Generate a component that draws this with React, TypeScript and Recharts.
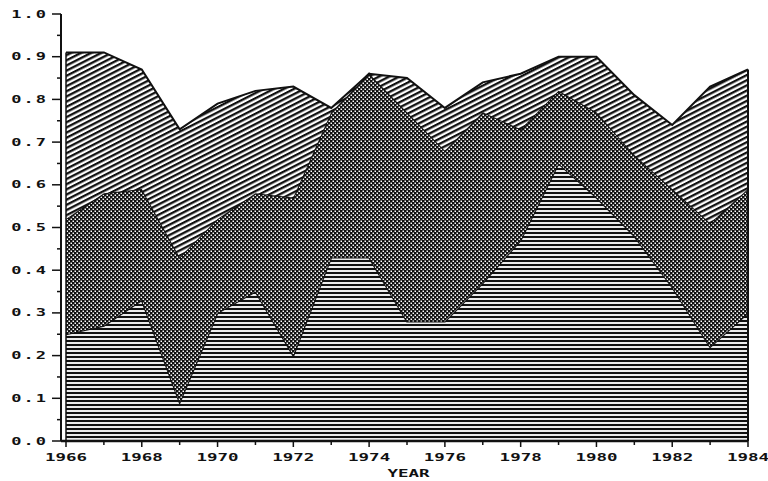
import { AreaChart, Area, XAxis, YAxis, ReferenceLine, Label } from 'recharts';

const years = [1966, 1967, 1968, 1969, 1970, 1971, 1972, 1973, 1974, 1975, 1976, 1977, 1978, 1979, 1980, 1981, 1982, 1983, 1984];
const lowerShare = [0.25, 0.27, 0.33, 0.09, 0.30, 0.35, 0.20, 0.43, 0.43, 0.28, 0.28, 0.37, 0.47, 0.65, 0.57, 0.48, 0.36, 0.22, 0.30];
const middleShare = [0.27, 0.31, 0.26, 0.34, 0.22, 0.23, 0.37, 0.34, 0.43, 0.49, 0.40, 0.40, 0.26, 0.17, 0.20, 0.19, 0.23, 0.29, 0.29];
const upperShare = [0.39, 0.33, 0.28, 0.30, 0.27, 0.24, 0.26, 0.01, 0.00, 0.08, 0.10, 0.07, 0.13, 0.08, 0.13, 0.14, 0.15, 0.32, 0.28];

const yMajorTicks = [0, 0.1, 0.2, 0.3, 0.4, 0.5, 0.6, 0.7, 0.8, 0.9, 1.0];
const yMinorTicks = [0.05, 0.15, 0.25, 0.35, 0.45, 0.55, 0.65, 0.75, 0.85, 0.95];
const xLabelYears = [1966, 1968, 1970, 1972, 1974, 1976, 1978, 1980, 1982, 1984];
const xTitle = 'YEAR';

const data = years.map((year, i) => ({
  year,
  lower: lowerShare[i],
  middle: middleShare[i],
  upper: upperShare[i],
}));

const yTicks = [...yMajorTicks, ...yMinorTicks].sort((a, b) => a - b);
const firstTotal = lowerShare[0] + middleShare[0] + upperShare[0];
const last = years.length - 1;
const lastTotal = lowerShare[last] + middleShare[last] + upperShare[last];

const FONT = '"DejaVu Sans Mono", monospace';

const YTick = (props: any) => {
  const { x, y, payload } = props;
  const v = payload.value;
  const major = yMajorTicks.some((t) => Math.abs(t - v) < 1e-6);
  if (!major) {
    return <line x1={x - 4} x2={x} y1={y} y2={y} stroke="#111" strokeWidth={1.5} />;
  }
  return (
    <g>
      <line x1={x - 9} x2={x} y1={y} y2={y} stroke="#111" strokeWidth={1.5} />
      <text
        transform={`translate(${x - 13},${y + 3.5}) scale(1.7,1)`}
        textAnchor="end"
        fontFamily={FONT}
        fontWeight="bold"
        fontSize={10}
        letterSpacing={1.2}
        fill="#111"
      >
        {v.toFixed(1)}
      </text>
    </g>
  );
};

const XTick = (props: any) => {
  const { x, y, payload } = props;
  const v = payload.value;
  const major = xLabelYears.includes(v);
  return (
    <g>
      <line x1={x} x2={x} y1={y} y2={y + (major ? 6 : 4)} stroke="#111" strokeWidth={1.5} />
      {major && (
        <text
          transform={`translate(${x},${y + 20}) scale(1.75,1)`}
          textAnchor="middle"
          fontFamily={FONT}
          fontWeight="bold"
          fontSize={10}
          fill="#111"
        >
          {v}
        </text>
      )}
    </g>
  );
};

const XTitle = (props: any) => {
  const { viewBox } = props;
  const cx = viewBox.x + viewBox.width / 2 + 4;
  return (
    <text
      transform={`translate(${cx},${viewBox.y + 36}) scale(1.75,1)`}
      textAnchor="middle"
      fontFamily={FONT}
      fontWeight="bold"
      fontSize={10}
      fill="#111"
    >
      {xTitle}
    </text>
  );
};

export default function App() {
  return (
    <div style={{ position: 'absolute', left: 0, top: 0, background: '#fff' }}>
      <AreaChart width={768} height={481} data={data} margin={{ top: 14, right: 20, left: 0, bottom: 0 }}>
        <defs>
          <pattern id="hlines" width="8" height="4" patternUnits="userSpaceOnUse">
            <rect width="8" height="4" fill="#ececec" />
            <rect width="8" height="2" fill="#111" />
          </pattern>
          <pattern id="dots" width="4" height="4" patternUnits="userSpaceOnUse">
            <rect width="4" height="4" fill="#111" />
            <rect x="0.5" y="0.5" width="1.5" height="1.5" fill="#fff" />
            <rect x="2.5" y="2.5" width="1.5" height="1.5" fill="#fff" />
          </pattern>
          <pattern id="diag" width="10" height="4.6" patternUnits="userSpaceOnUse" patternTransform="rotate(-27)">
            <rect width="10" height="4.6" fill="#fff" />
            <rect width="10" height="2.3" fill="#111" />
          </pattern>
        </defs>
        <XAxis
          dataKey="year"
          type="number"
          domain={[1966, 1984]}
          ticks={years}
          interval={0}
          padding={{ left: 5, right: 0 }}
          height={40}
          tickSize={0}
          tickMargin={0}
          tickLine={false}
          tick={<XTick />}
          axisLine={{ stroke: '#111', strokeWidth: 2.5 }}
        >
          <Label content={<XTitle />} />
        </XAxis>
        <YAxis
          type="number"
          domain={[0, 1]}
          ticks={yTicks}
          interval={0}
          width={61}
          tickSize={0}
          tickMargin={0}
          tickLine={false}
          tick={<YTick />}
          axisLine={{ stroke: '#111', strokeWidth: 2 }}
        />
        <Area type="linear" dataKey="lower" stackId="1" stroke="#111" strokeWidth={2} fill="url(#hlines)" fillOpacity={1} isAnimationActive={false} />
        <Area type="linear" dataKey="middle" stackId="1" stroke="#111" strokeWidth={2} fill="url(#dots)" fillOpacity={1} isAnimationActive={false} />
        <Area type="linear" dataKey="upper" stackId="1" stroke="#111" strokeWidth={2} fill="url(#diag)" fillOpacity={1} isAnimationActive={false} />
        <ReferenceLine segment={[{ x: years[0], y: 0 }, { x: years[0], y: firstTotal }]} stroke="#111" strokeWidth={1.5} />
        <ReferenceLine segment={[{ x: years[last], y: 0 }, { x: years[last], y: lastTotal }]} stroke="#111" strokeWidth={2} />
      </AreaChart>
    </div>
  );
}
